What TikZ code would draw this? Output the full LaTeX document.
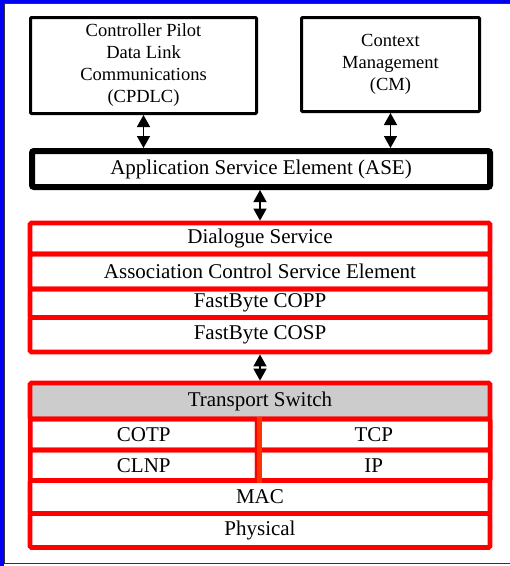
\documentclass[tikz,border=0pt]{standalone}
\usepackage{fontspec}
\setmainfont{Liberation Serif}
\usetikzlibrary{arrows.meta}

\definecolor{framblue}{RGB}{0,0,245}
\definecolor{layred}{RGB}{255,0,0}
\definecolor{divred}{RGB}{255,51,0}
\definecolor{swgray}{RGB}{204,204,204}

\tikzset{
  appbox/.style={draw=black, line width=3pt, rounded corners=1pt, align=center,
    font=\fontsize{18.5}{22}\selectfont, inner sep=0pt},
  asebox/.style={draw=black, line width=6pt, rounded corners=2pt,
    font=\fontsize{21}{24}\selectfont, inner sep=0pt},
  layer/.style={draw=layred, line width=4.8pt, rounded corners=1.5pt,
    font=\fontsize{21}{24}\selectfont, inner sep=0pt, minimum width=460pt},
  biarrow/.style={line width=1.5pt,
    {Triangle[width=13pt,length=12pt]}-{Triangle[width=13pt,length=12pt]}}
}

\begin{document}
\begin{tikzpicture}[x=1pt, y=-1pt]
  \useasboundingbox (0,0) rectangle (510,566);
  \fill[white] (0,0) rectangle (510,566);

  % window frame
  \fill[framblue] (0,0) rectangle (510,3);
  \fill[framblue] (0,0) rectangle (4,566);
  \draw[black!80, line width=1pt] (4,3.5) -- (510,3.5);
  \draw[black!80, line width=1pt] (4.5,3) -- (4.5,563.5);
  \draw[black!80, line width=1pt] (4,563.5) -- (510,563.5);

  % applications
  \node (cpdlc) at (143.5, 65.5) [appbox, minimum width=226pt, minimum height=96pt]
    {Controller Pilot\\Data Link\\Communications\\(CPDLC)};
  \node (cm) at (390.5, 64.5) [appbox, minimum width=178pt, minimum height=94pt]
    {Context\\Management\\(CM)};
  \node (ase) at (261, 169) [asebox, minimum width=458pt, minimum height=36pt]
    {Application Service Element (ASE)};

  % upper layers
  \node (dlg)  at (260, 238.5) [layer, minimum height=31pt]   {Dialogue Service};
  \node (acse) at (260, 271.5) [layer, minimum height=35pt]   {Association Control Service Element};
  \node (copp) at (260, 303.2) [layer, minimum height=28.5pt] {FastByte COPP};
  \node (cosp) at (260, 334.8) [layer, minimum height=34.5pt] {FastByte COSP};

  % lower layers
  \node (tsw)  at (260, 401)   [layer, fill=swgray, minimum height=36pt] {Transport Switch};
  \node (cotp) at (143.8, 434.5) [layer, minimum width=227pt, minimum height=31pt]   {COTP};
  \node (tcp)  at (373.8, 434.5) [layer, minimum width=233pt, minimum height=31pt]   {TCP};
  \node (clnp) at (143.8, 465.2) [layer, minimum width=227pt, minimum height=30.5pt] {CLNP};
  \node (ip)   at (373.8, 465.2) [layer, minimum width=233pt, minimum height=30.5pt] {IP};
  \node (mac)  at (260, 497)   [layer, minimum height=33pt] {MAC};
  \node (phy)  at (260, 530.5) [layer, minimum height=34pt] {Physical};

  \draw[divred, line width=4.5pt] (cotp.north east) -- (clnp.south east);

  % interfaces
  \draw[biarrow] (cpdlc.south) -- (cpdlc.south |- ase.north);
  \draw[biarrow] (cm.south) -- (cm.south |- ase.north);
  \draw[biarrow] (ase.south -| dlg.north) -- (dlg.north);
  \draw[biarrow] (cosp.south) -- (tsw.north);
\end{tikzpicture}
\end{document}
